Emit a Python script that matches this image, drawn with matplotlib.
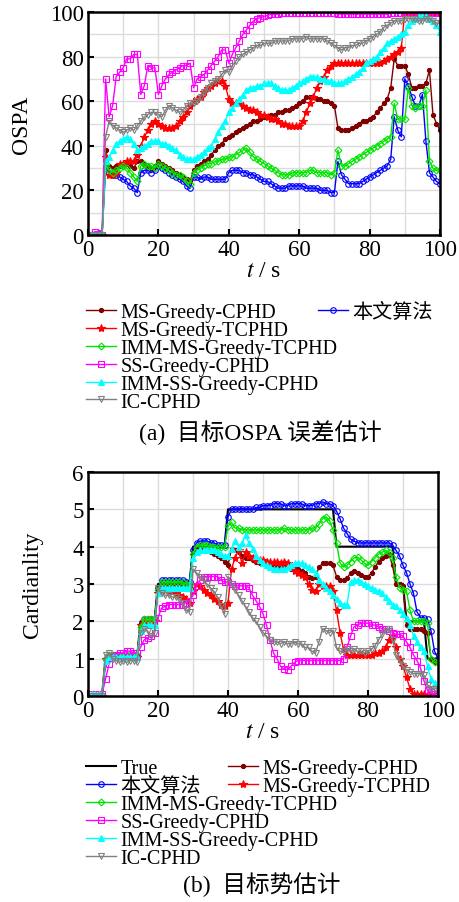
import numpy as np
import matplotlib
matplotlib.use("Agg")
import matplotlib.pyplot as plt

plt.rcParams['font.family'] = ['Liberation Serif', 'Noto Sans CJK SC']
plt.rcParams['mathtext.fontset'] = 'stix'

# time steps
t = np.arange(1, 101)

# ---- OSPA (a) ----
ospa_ms_cphd = [0, 0, 0, 0, 38, 31, 30, 31, 31, 32,
                32, 31, 30, 33, 33, 32, 31, 30, 31, 33,
                32, 31, 30, 29, 28, 27, 26, 25, 24, 29,
                31, 32, 33, 34, 36, 38, 40, 41, 43, 44,
                45, 46, 47, 48, 49, 50, 51, 51, 52, 53,
                53, 54, 54, 55, 55, 56, 56, 57, 58, 59,
                60, 62, 62, 62, 61, 61, 60, 60, 59, 58,
                48, 47, 47, 47, 48, 49, 50, 51, 51, 52,
                53, 55, 57, 59, 61, 66, 79, 76, 76, 76,
                72, 66, 66, 67, 67, 68, 74, 54, 50, 47]
ospa_ms_tcphd = [0, 0, 0, 0, 35, 27, 27, 28, 32, 32,
                 33, 33, 33, 36, 40, 44, 47, 50, 51, 50,
                 49, 48, 48, 48, 49, 51, 53, 55, 58, 60,
                 61, 62, 64, 66, 67, 68, 69, 69, 67, 61,
                 59, 59, 59, 58, 57, 56, 56, 55, 54, 54,
                 53, 52, 52, 51, 50, 50, 49, 49, 49, 49,
                 51, 55, 59, 62, 66, 69, 71, 74, 76, 77,
                 77, 77, 77, 77, 77, 77, 77, 77, 77, 77,
                 77, 77, 77, 78, 79, 80, 81, 82, 84, 100,
                 100, 100, 100, 100, 100, 100, 100, 100, 100, 100]
ospa_imm_ms = [0, 0, 0, 0, 32, 29, 28, 29, 30, 31,
               30, 28, 26, 24, 31, 32, 31, 31, 30, 32,
               31, 30, 29, 28, 27, 27, 26, 24, 23, 28,
               29, 30, 31, 32, 32, 33, 33, 34, 34, 35,
               35, 36, 37, 38, 39, 37, 35, 34, 33, 32,
               31, 30, 29, 28, 27, 27, 27, 28, 28, 28,
               28, 28, 29, 29, 28, 28, 28, 28, 27, 28,
               38, 31, 31, 32, 33, 34, 35, 36, 37, 38,
               39, 40, 41, 42, 43, 44, 59, 52, 52, 52,
               66, 58, 57, 58, 58, 65, 33, 30, 29, 29]
ospa_ss_cphd = [0, 1.5, 0.5, 0, 70, 53, 58, 71, 73, 75,
                79, 79, 81, 81, 63, 67, 76, 75, 75, 63,
                67, 70, 72, 73, 74, 75, 76, 76, 77, 66,
                70, 71, 72, 74, 76, 78, 80, 83, 83, 77,
                81, 84, 87, 90, 92, 94, 96, 97, 97.5, 98,
                98.5, 99, 99, 99, 99.5, 99.5, 99.5, 99.5, 99.5, 99.5,
                99.5, 99.5, 99.5, 99.5, 99.5, 99.5, 99.5, 99.5, 99.5, 99.5,
                99, 99, 99, 99, 99, 99, 99, 99, 99, 99,
                99, 99, 99, 99, 99, 99.5, 99.5, 99.5, 99.5, 99.5,
                99.7, 99.7, 99.7, 99.7, 99.7, 99.7, 99.7, 99.7, 99.7, 99.7]
ospa_imm_ss = [0, 0, 0, 0, 33, 35, 38, 41, 42, 43,
               44, 43, 41, 38, 39, 40, 41, 42, 42, 42,
               41, 41, 40, 39, 38, 36, 35, 34, 34, 34,
               35, 36, 37, 39, 40, 43, 46, 49, 51, 55,
               57, 59, 61, 63, 65, 66, 66, 67, 67, 68,
               68, 68, 67, 66, 65, 65, 65, 66, 67, 68,
               69, 70, 71, 71, 71, 70, 70, 69, 69, 68,
               68, 68, 69, 70, 71, 72, 73, 75, 77, 78,
               79, 80, 82, 84, 86, 87, 88, 89, 90, 91,
               94, 96, 97, 98, 98, 98, 97, 96, 94, 91]
ospa_ic = [0, 0, 0, 0, 44, 51, 49, 48, 47, 46,
           47, 48, 47, 49, 51, 53, 54, 55, 55, 54,
           53, 56, 58, 57, 56, 55, 56, 58, 59, 59,
           60, 62, 64, 66, 68, 69, 70, 72, 74, 73,
           76, 78, 80, 81, 82, 83, 84, 85, 85, 86,
           86, 86, 87, 87, 87, 87, 87, 88, 88, 88,
           88, 89, 88, 88, 88, 88, 88, 87, 86, 85,
           84, 83, 84, 84, 85, 85, 86, 86, 87, 88,
           89, 90, 91, 93, 94, 95, 96, 96, 96, 97,
           97, 97, 97, 96, 96, 97, 97, 96, 95, 95]
ospa_ours = [0, 0, 1, 0, 30, 28, 27, 27, 26, 25,
             24, 22, 21, 19, 28, 29, 29, 28, 29, 31,
             30, 29, 28, 27, 26, 25, 24, 22, 21, 26,
             26, 25, 26, 26, 25, 25, 25, 25, 25, 28,
             29, 29, 29, 28, 28, 27, 27, 26, 25, 24,
             24, 23, 22, 21, 21, 21, 22, 22, 22, 22,
             22, 21, 21, 21, 21, 20, 20, 20, 19, 19,
             33, 27, 25, 23, 23, 23, 23, 24, 25, 26,
             27, 28, 29, 30, 31, 34, 53, 47, 44, 70,
             67, 62, 58, 58, 63, 42, 28, 26, 24, 23]

# ---- cardinality (b) ----
card_true = [0] * 4 + [1] * 10 + [2] * 5 + [3] * 10 + [4] * 10 + [5] * 31 + [4] * 17 + [3] * 3 + [2] * 6 + [1] * 4
card_ours = [0, 0, 0, 0, 1.0, 1.05, 1.05, 1.05, 1.05, 1.05,
             1.05, 1.05, 1.05, 1.05, 1.9, 2.05, 2.05, 2.05, 2.05, 2.9,
             3.1, 3.1, 3.1, 3.1, 3.1, 3.1, 3.1, 3.05, 3.05, 3.9,
             4.1, 4.15, 4.15, 4.15, 4.1, 4.1, 4.05, 4.05, 4.05, 4.8,
             5.0, 5.0, 5.0, 5.0, 5.0, 5.0, 5.0, 5.05, 5.05, 5.1,
             5.1, 5.1, 5.15, 5.15, 5.15, 5.1, 5.1, 5.15, 5.15, 5.15,
             5.15, 5.1, 5.1, 5.1, 5.15, 5.15, 5.2, 5.15, 5.15, 5.1,
             4.95, 4.75, 4.5, 4.35, 4.2, 4.15, 4.1, 4.1, 4.1, 4.1,
             4.1, 4.1, 4.1, 4.1, 4.1, 4.1, 4.05, 3.9, 3.75, 3.5,
             3.3, 3.0, 2.75, 2.25, 2.1, 2.1, 2.05, 1.75, 1.2, 1.0]
card_ms_cphd = [0, 0, 0, 0, 1.0, 1.1, 1.1, 1.1, 1.1, 1.1,
                1.1, 1.1, 1.1, 1.1, 1.9, 2.0, 2.0, 2.0, 2.0, 2.9,
                3.0, 3.0, 3.0, 3.0, 3.0, 3.0, 3.0, 2.95, 2.95, 3.8,
                3.95, 3.95, 3.9, 3.9, 3.85, 3.8, 3.75, 3.7, 3.6, 3.5,
                3.95, 3.9, 3.85, 3.75, 3.7, 3.7, 3.65, 3.6, 3.55, 3.55,
                3.5, 3.5, 3.5, 3.45, 3.45, 3.45, 3.45, 3.4, 3.4, 3.4,
                3.35, 3.3, 3.2, 3.15, 3.2, 3.45, 3.55, 3.55, 3.55, 3.5,
                3.2, 3.1, 3.1, 3.15, 3.3, 3.35, 3.3, 3.25, 3.2, 3.2,
                3.3, 3.45, 3.6, 3.7, 3.75, 3.8, 3.5, 3.0, 3.0, 2.95,
                1.9, 1.8, 1.8, 1.8, 1.8, 1.75, 1.7, 1.0, 0.9, 0.9]
card_ms_tcphd = [0, 0, 0, 0, 1.0, 1.05, 1.05, 1.05, 1.05, 1.05,
                 1.05, 1.05, 1.05, 1.05, 1.9, 2.0, 2.0, 2.0, 2.0, 2.75,
                 2.85, 2.85, 2.8, 2.8, 2.75, 2.7, 2.65, 2.6, 2.5, 2.8,
                 3.0, 2.95, 2.85, 2.75, 2.7, 2.6, 2.55, 2.45, 2.4, 2.5,
                 3.4, 3.7, 3.9, 3.55, 3.85, 3.75, 3.7, 3.65, 3.65, 3.65,
                 3.6, 3.6, 3.6, 3.6, 3.55, 3.6, 3.55, 3.45, 3.35, 3.3,
                 3.25, 3.2, 3.0, 2.85, 2.8, 3.0, 2.95, 2.95, 2.95, 2.8,
                 2.3, 1.7, 1.25, 1.1, 1.1, 1.1, 1.1, 1.1, 1.1, 1.1,
                 1.1, 1.15, 1.15, 1.2, 1.3, 1.5, 1.6, 1.3, 1.0, 0.8,
                 0.5, 0.2, 0.05, 0.05, 0.05, 0.05, 0.05, 0.05, 0.05, 0.05]
card_imm_ms = [0, 0, 0, 0, 1.0, 1.1, 1.1, 1.1, 1.1, 1.1,
               1.1, 1.1, 1.1, 1.1, 1.85, 2.05, 2.05, 2.05, 2.05, 2.85,
               3.05, 3.05, 3.05, 3.05, 3.05, 3.05, 3.05, 3.0, 3.0, 3.8,
               4.0, 4.05, 4.05, 4.05, 4.0, 4.0, 4.0, 4.0, 4.0, 4.55,
               4.65, 4.5, 4.5, 4.45, 4.45, 4.45, 4.45, 4.45, 4.45, 4.45,
               4.45, 4.45, 4.45, 4.45, 4.45, 4.5, 4.45, 4.45, 4.45, 4.45,
               4.45, 4.45, 4.45, 4.5, 4.5, 4.6, 4.75, 4.8, 4.7, 4.45,
               4.1, 3.57, 3.45, 3.5, 3.6, 3.7, 3.72, 3.65, 3.55, 3.5,
               3.6, 3.7, 3.8, 3.85, 3.9, 3.85, 3.7, 3.2, 2.9, 2.85,
               2.8, 2.3, 2.0, 2.0, 2.0, 2.0, 1.95, 1.0, 0.9, 0.9]
card_ss_cphd = [0.05, 0.05, 0.05, 0.05, 0.45, 0.85, 1.05, 1.1, 1.15, 1.15,
                1.2, 1.2, 1.15, 1.15, 1.3, 1.5, 1.55, 1.6, 1.7, 2.1,
                2.35, 2.4, 2.45, 2.45, 2.45, 2.45, 2.45, 2.5, 2.55, 2.7,
                2.95, 3.1, 3.2, 3.2, 3.2, 3.2, 3.2, 3.1, 3.05, 3.05,
                3.0, 2.95, 2.95, 2.95, 2.95, 2.9, 2.7, 2.55, 2.4, 2.2,
                1.9, 1.5, 1.15, 1.0, 0.8, 0.72, 0.7, 0.8, 0.9, 0.95,
                0.95, 0.95, 0.95, 0.95, 0.95, 0.95, 0.95, 0.95, 0.95, 0.95,
                0.95, 0.95, 1.0, 1.3, 1.6, 1.85, 1.9, 1.95, 1.95, 1.95,
                1.9, 1.9, 1.85, 1.8, 1.8, 1.75, 1.7, 1.65, 1.65, 1.6,
                1.45, 1.3, 1.1, 0.95, 0.75, 0.4, 0.15, 0.1, 0.05, 0.05]
card_imm_ss = [0.05, 0.05, 0.05, 0.05, 0.95, 1.05, 1.05, 1.05, 1.05, 1.05,
               1.05, 1.05, 1.05, 1.05, 1.75, 1.9, 1.9, 1.9, 1.9, 2.75,
               2.9, 2.9, 2.9, 2.9, 2.9, 2.9, 2.9, 2.9, 2.9, 3.7,
               3.85, 3.9, 3.9, 3.9, 3.9, 3.9, 3.85, 3.8, 3.75, 3.75,
               3.95, 4.15, 4.0, 4.1, 4.3, 4.1, 3.95, 3.75, 3.65, 3.55,
               3.5, 3.45, 3.4, 3.4, 3.4, 3.4, 3.45, 3.5, 3.55, 3.55,
               3.55, 3.5, 3.45, 3.4, 3.3, 3.1, 3.0, 2.9, 2.8, 2.7,
               2.6, 2.5, 2.45, 2.45, 3.05, 3.1, 3.1, 3.05, 3.0, 2.95,
               2.9, 2.85, 2.8, 2.75, 2.65, 2.55, 2.45, 2.4, 2.3, 2.2,
               2.1, 1.9, 1.6, 1.45, 1.3, 1.2, 0.8, 0.45, 0.35, 0.3]
card_ic = [0, 0, 0, 0, 1.1, 1.15, 1.0, 0.95, 0.9, 0.95,
           0.9, 0.95, 0.95, 0.9, 1.7, 1.8, 1.75, 1.6, 1.7, 2.9,
           2.75, 2.7, 2.7, 2.65, 2.65, 2.6, 2.5, 2.3, 2.25, 3.4,
           3.3, 3.2, 3.1, 3.0, 2.9, 2.8, 2.65, 2.4, 2.2, 3.2,
           3.0, 2.85, 2.7, 2.55, 2.4, 2.25, 2.1, 2.0, 1.85, 1.7,
           1.6, 1.5, 1.45, 1.45, 1.4, 1.45, 1.4, 1.4, 1.45, 1.4,
           1.4, 1.3, 1.3, 1.2, 1.15, 1.45, 1.8, 1.75, 1.7, 1.75,
           1.3, 1.2, 1.2, 1.25, 1.2, 1.25, 1.2, 1.2, 1.15, 1.2,
           1.25, 1.35, 1.5, 1.65, 1.75, 1.8, 1.5, 1.1, 0.95, 0.8,
           0.7, 0.65, 0.6, 0.6, 0.6, 0.55, 0.3, 0.2, 0.2, 0.2]

# label: (color, marker, hollow)
styles = {
    '本文算法': ('#0000ff', 'o', True),
    'MS-Greedy-CPHD': ('#800000', 'o', False),
    'MS-Greedy-TCPHD': ('#ff0000', '*', False),
    'IMM-MS-Greedy-TCPHD': ('#00e600', 'D', True),
    'SS-Greedy-CPHD': ('#ff00ff', 's', True),
    'IMM-SS-Greedy-CPHD': ('#00ffff', '^', False),
    'IC-CPHD': ('#808080', 'v', True),
}
msizes = {'o': 4, '*': 6, 'D': 3.5, 's': 4, '^': 4.5, 'v': 5}
ms_small = {'MS-Greedy-CPHD': 3}

def draw(ax, name, y):
    c, m, hollow = styles[name]
    ms = ms_small.get(name, msizes[m])
    return ax.plot(t, y, color=c, lw=1.0, marker=m, ms=ms, mew=0.8,
                   mfc='none' if hollow else c, label=name)[0]

def style_axes(ax, ymax, ystep, yminor):
    ax.set_xlim(0, 100)
    ax.set_ylim(0, ymax)
    ax.set_xticks(range(0, 101, 20))
    ax.set_xticks(range(0, 101, 10), minor=True)
    ax.set_yticks(np.arange(0, ymax + 0.01, ystep))
    ax.set_yticks(np.arange(0, ymax + 0.01, yminor), minor=True)
    ax.grid(which='both', color='#dcdcdc', lw=1)
    ax.set_axisbelow(True)
    ax.tick_params(which='major', direction='in', length=4, width=1.5, labelsize=16.5, pad=3)
    ax.tick_params(which='minor', length=0)
    for s in ax.spines.values():
        s.set_linewidth(1.8)
    ax.set_xlabel(r'$t$ / s', fontsize=17, labelpad=0)

fig = plt.figure(figsize=(4.59, 9.03), dpi=100)
ax1 = fig.add_axes([88 / 459, 1 - 236 / 903, 352 / 459, 223 / 903])
ax2 = fig.add_axes([88 / 459, 1 - 697 / 903, 350 / 459, 224 / 903])

# (a) OSPA
h_ours = draw(ax1, '本文算法', ospa_ours)
h1 = [draw(ax1, 'MS-Greedy-CPHD', ospa_ms_cphd),
      draw(ax1, 'MS-Greedy-TCPHD', ospa_ms_tcphd),
      draw(ax1, 'IMM-MS-Greedy-TCPHD', ospa_imm_ms),
      draw(ax1, 'SS-Greedy-CPHD', ospa_ss_cphd),
      draw(ax1, 'IMM-SS-Greedy-CPHD', ospa_imm_ss),
      draw(ax1, 'IC-CPHD', ospa_ic)]
style_axes(ax1, 100, 20, 10)
ax1.set_ylabel('OSPA', fontsize=17)
ax1.yaxis.set_label_coords(-0.16, 0.5)

leg_kw = dict(frameon=False, fontsize=14.5, handlelength=1.5, handletextpad=0.2,
              labelspacing=-0.06, borderpad=0, borderaxespad=0, numpoints=1)
fig.legend(h1, [h.get_label() for h in h1], loc='upper left',
           bbox_to_anchor=(86 / 459, 1 - 304 / 903), **leg_kw)
fig.legend([h_ours], ['本文算法'], loc='upper left',
           bbox_to_anchor=(318 / 459, 1 - 304 / 903), **leg_kw)
fig.text(260 / 459, 1 - 433 / 903, '(a)  目标OSPA 误差估计', fontsize=17,
         ha='center', va='center')

# (b) cardinality
h_true = ax2.plot(t, card_true, color='black', lw=1.5, label='True')[0]
h_ours2 = draw(ax2, '本文算法', card_ours)
h_m1 = draw(ax2, 'MS-Greedy-CPHD', card_ms_cphd)
h_m2 = draw(ax2, 'MS-Greedy-TCPHD', card_ms_tcphd)
h_rest = [draw(ax2, 'IMM-MS-Greedy-TCPHD', card_imm_ms),
          draw(ax2, 'SS-Greedy-CPHD', card_ss_cphd),
          draw(ax2, 'IMM-SS-Greedy-CPHD', card_imm_ss),
          draw(ax2, 'IC-CPHD', card_ic)]
style_axes(ax2, 6, 1, 1)
ax2.set_ylabel('Cardianlity', fontsize=17)
ax2.yaxis.set_label_coords(-0.13, 0.5)

left = [h_true, h_ours2] + h_rest
fig.legend(left, [h.get_label() for h in left], loc='upper left',
           bbox_to_anchor=(86 / 459, 1 - 760 / 903), **leg_kw)
fig.legend([h_m1, h_m2], ['MS-Greedy-CPHD', 'MS-Greedy-TCPHD'], loc='upper left',
           bbox_to_anchor=(228 / 459, 1 - 760 / 903), **leg_kw)
fig.text(262 / 459, 1 - 885 / 903, '(b)  目标势估计', fontsize=17,
         ha='center', va='center')

fig.savefig('out.png', dpi=100)
